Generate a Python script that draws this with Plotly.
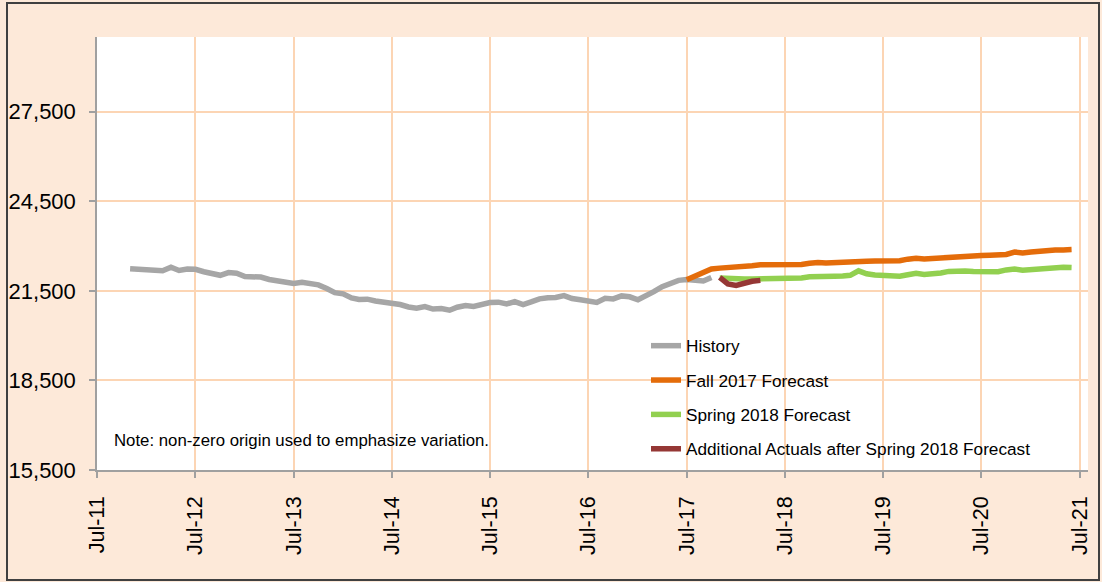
import pandas as pd
import plotly.graph_objects as go

history_start = "2011-11-01"
history = [
    22240, 22220, 22190, 22160, 22170, 22290, 22180, 22230, 22220, 22140, 22090, 22020,
    22110, 22090, 21980, 21970, 21960, 21880, 21850, 21810, 21750, 21790, 21750, 21700,
    21580, 21440, 21400, 21260, 21210, 21220, 21160, 21130, 21090, 21040, 20960, 20920,
    20975, 20890, 20910, 20850, 20950, 21010, 20980, 21060, 21110, 21120, 21060, 21140,
    21040, 21130, 21230, 21270, 21280, 21340, 21240, 21200, 21150, 21110, 21250, 21230,
    21330, 21300, 21200, 21330, 21470, 21640, 21730, 21850, 21880, 21860, 21830, 21950,
]

fall_start = "2017-07-01"
fall_2017 = [
    21870, 21980, 22100, 22230, 22260, 22270, 22290, 22310, 22340, 22370, 22370, 22370,
    22380, 22370, 22380, 22420, 22450, 22430, 22450, 22460, 22480, 22490, 22490, 22500,
    22500, 22500, 22510, 22560, 22590, 22570, 22590, 22610, 22640, 22650, 22660, 22670,
    22680, 22690, 22690, 22720, 22800, 22770, 22800, 22830, 22860, 22870, 22870, 22880,
]

spring_start = "2017-11-01"
spring_2018 = [
    21930, 21910, 21900, 21900, 21900, 21900, 21910, 21920, 21920, 21930, 21930, 21970,
    21990, 21990, 21990, 22000, 22020, 22170, 22070, 22030, 22010, 22000, 21990, 22040,
    22090, 22050, 22060, 22100, 22150, 22170, 22160, 22150, 22140, 22130, 22140, 22200,
    22230, 22190, 22210, 22240, 22280, 22290, 22290, 22280,
]

actuals_start = "2017-11-01"
additional_actuals = [21950, 21730, 21680, 21770, 21820, 21850]

series_names = [
    "History",
    "Fall 2017 Forecast",
    "Spring 2018 Forecast",
    "Additional Actuals after Spring 2018 Forecast",
]
series_colors = ["#A6A6A6", "#E46C0A", "#92D050", "#953735"]

y_ticks = [15500, 18500, 21500, 24500, 27500]
x_tick_dates = pd.date_range("2011-07-01", "2021-07-01", freq="12MS")
x_tick_labels = [d.strftime("%b-%y") for d in x_tick_dates]

note_text = "Note: non-zero origin used to emphasize variation."

FONT = "Liberation Sans, Arial, sans-serif"
PEACH = "#FDE9D9"
GRID = "#FCD5B4"

# plot-area geometry in pixels
L, R, T, B = 97, 1088, 37, 470
PW, PH = R - L, B - T


def px_x(p):
    return (p - L) / PW


def px_y(p):
    return (B - p) / PH


def dates(start, n):
    return pd.date_range(start, periods=n, freq="MS")


fig = go.Figure()
data = [
    (history_start, history),
    (fall_start, fall_2017),
    (spring_start, spring_2018),
    (actuals_start, additional_actuals),
]
for i, ((start, vals), name, color) in enumerate(zip(data, series_names, series_colors)):
    fig.add_trace(go.Scatter(
        x=dates(start, len(vals)), y=vals, mode="lines", name=name,
        line=dict(color=color, width=5.5), legendgroup=f"g{i}",
    ))

fig.update_layout(
    width=1102, height=582,
    margin=dict(l=L, r=1102 - R, t=T, b=582 - B, autoexpand=False),
    paper_bgcolor=PEACH, plot_bgcolor="white",
    font=dict(family=FONT, color="black"),
    showlegend=True,
    legend=dict(
        x=px_x(646), y=px_y(328), xanchor="left", yanchor="top",
        bgcolor="rgba(255,255,255,0)", font=dict(size=17.2, family=FONT),
        traceorder="grouped", tracegroupgap=9,
        itemwidth=30,
    ),
    xaxis=dict(
        type="date",
        range=["2011-07-01", "2021-08-01"],
        tickvals=x_tick_dates, ticktext=x_tick_labels,
        tickangle=-90, tickfont=dict(size=21.5, family=FONT),
        showgrid=True, gridcolor=GRID, gridwidth=2,
        showline=True, linecolor="#A0A0A0", linewidth=1.5,
        ticks="outside", ticklen=6, tickcolor="#A0A0A0", tickwidth=1.5,
        ticklabelstandoff=10, automargin=False,
        zeroline=False, fixedrange=True,
    ),
    yaxis=dict(
        range=[15500, 30000],
        tickvals=y_ticks, tickformat=",d",
        tickfont=dict(size=22, family=FONT),
        showgrid=True, gridcolor=GRID, gridwidth=1.5,
        showline=True, linecolor="#A0A0A0", linewidth=1.5,
        ticks="outside", ticklen=6, tickcolor="#A0A0A0", tickwidth=1.5,
        ticklabelstandoff=9, automargin=False,
        zeroline=False, fixedrange=True,
    ),
    annotations=[dict(
        text=note_text, xref="paper", yref="paper",
        x=px_x(112), y=px_y(440), xanchor="left", yanchor="middle",
        showarrow=False, font=dict(size=16.8, family=FONT, color="black"),
    )],
    shapes=[
        dict(
            type="rect", xref="paper", yref="paper",
            x0=px_x(620), x1=px_x(1080), y0=px_y(466), y1=px_y(328),
            line=dict(width=0), fillcolor="white", layer="between",
        ),
        dict(
            type="rect", xref="paper", yref="paper",
            x0=px_x(7), x1=px_x(1099), y0=px_y(580), y1=px_y(3),
            line=dict(color="#404040", width=2), fillcolor="rgba(0,0,0,0)",
            layer="above",
        ),
    ],
)

fig.write_html(
    "out.html",
    config={"displayModeBar": False},
    post_script="document.body.style.margin='0';document.body.style.padding='0';",
)
